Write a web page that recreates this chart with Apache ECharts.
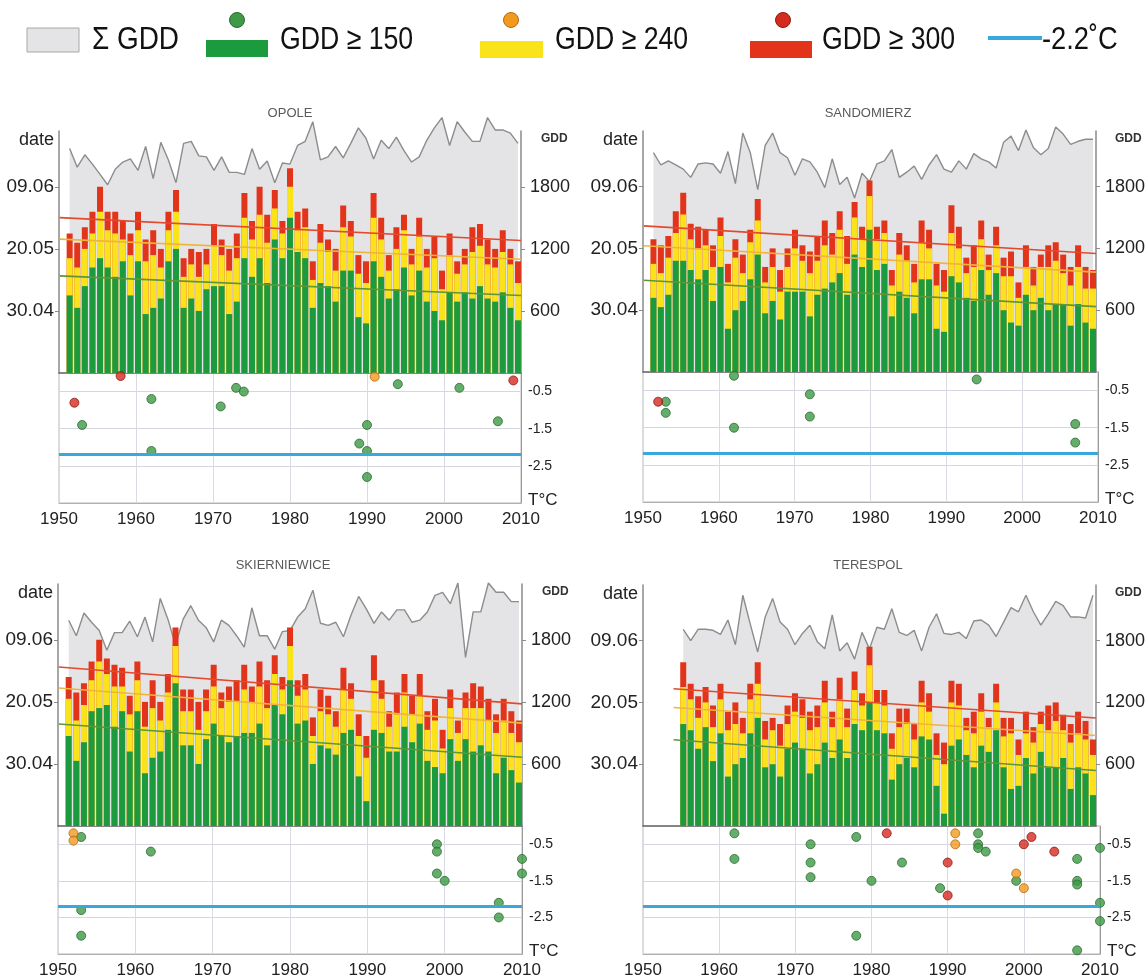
<!DOCTYPE html>
<html><head><meta charset="utf-8">
<script src="https://cdn.jsdelivr.net/npm/echarts@6/dist/echarts.min.js"></script>
<style>html,body{margin:0;padding:0;background:#fff}#c{width:1148px;height:979px}</style>
</head><body><div id="c"></div>
<script>
// ---------- DATA ----------
const years51 = [1951,1952,1953,1954,1955,1956,1957,1958,1959,1960,1961,1962,1963,1964,1965,1966,1967,1968,1969,1970,1971,1972,1973,1974,1975,1976,1977,1978,1979,1980,1981,1982,1983,1984,1985,1986,1987,1988,1989,1990,1991,1992,1993,1994,1995,1996,1997,1998,1999,2000,2001,2002,2003,2004,2005,2006,2007,2008,2009,2010];
const years55 = [1955,1956,1957,1958,1959,1960,1961,1962,1963,1964,1965,1966,1967,1968,1969,1970,1971,1972,1973,1974,1975,1976,1977,1978,1979,1980,1981,1982,1983,1984,1985,1986,1987,1988,1989,1990,1991,1992,1993,1994,1995,1996,1997,1998,1999,2000,2001,2002,2003,2004,2005,2006,2007,2008,2009,2010];

// day of year when GDD thresholds were reached (120 = 30.04)
const opoleD150 = [125,121,128,134,137,134,131,136,125,136,119,121,124,136,140,121,124,120,127,128,128,119,123,137,131,137,129,143,137,150,139,137,121,129,128,123,133,133,118,116,136,131,124,127,134,125,133,123,120,117,126,123,126,124,128,124,123,126,121,117];
const opoleD240 = [137,134,140,145,152,146,145,143,138,146,136,138,134,146,152,131,135,131,135,141,138,133,137,150,143,151,142,153,145,160,146,147,130,142,139,133,147,144,132,129,150,143,133,140,146,135,144,134,137,127,138,132,135,139,141,135,134,139,135,129];
const opoleD300 = [145,142,147,152,160,152,152,149,145,152,143,146,140,152,159,137,140,139,140,148,143,140,145,158,149,160,151,159,149,166,152,153,136,148,143,140,154,149,138,136,158,150,138,147,151,140,150,140,144,133,145,136,140,147,148,143,140,146,140,136];
const opoleGDD  = [2170,1990,2110,2020,1920,1820,1970,2040,2070,1960,2190,1880,2230,2060,1840,2220,2240,2100,2090,1960,2090,1940,1940,1920,2170,1970,2050,1840,2030,2020,2200,2240,2430,2060,2090,2190,2080,2220,2370,2270,2070,2250,2170,2280,2150,2040,2090,2250,2370,2470,2200,2430,2330,2240,2240,2470,2350,2350,2320,2220];

const sandD150 = [124,121,125,136,136,133,130,133,123,134,114,120,123,130,138,119,123,117,126,126,126,118,125,127,129,132,125,138,134,146,133,135,118,126,124,119,130,130,114,113,131,129,124,123,133,125,132,120,116,115,125,120,124,120,122,122,115,122,116,114];
const sandD240 = [135,132,137,145,151,143,140,141,134,144,129,137,132,142,149,129,134,126,134,140,136,132,136,141,138,146,135,150,143,157,143,145,128,138,136,129,142,140,128,126,145,140,132,134,143,133,141,131,131,124,134,128,134,134,136,132,128,134,127,127];
const sandD300 = [143,141,144,152,158,148,147,146,141,150,135,143,138,146,156,134,140,133,140,146,141,139,144,149,145,152,144,155,147,162,147,149,133,145,141,135,149,146,135,133,154,147,137,141,149,138,147,137,139,129,141,134,138,141,142,138,134,141,134,133];
const sandGDD  = [2130,2010,2050,2010,1970,1890,2020,2030,2020,1930,2140,1830,2320,2130,1770,2200,2320,2130,2080,1910,2070,2040,1940,1790,2070,1820,1890,1690,1930,1850,2020,2050,2160,1890,1940,2000,1870,2010,2110,1970,1940,2050,1970,2120,2070,2040,1980,2230,2290,2150,2350,2180,2110,2170,2380,2310,2210,2240,2260,2260];

const skieD150 = [129,121,127,137,138,139,132,137,124,137,117,122,124,131,146,126,126,120,128,133,129,127,129,130,130,133,126,139,136,147,133,134,120,126,125,123,130,131,116,108,131,130,124,124,132,127,133,121,119,117,128,121,128,124,126,124,117,122,118,114];
const skieD240 = [141,134,139,147,153,149,145,145,136,147,132,138,134,143,158,137,137,131,137,145,138,140,140,144,140,145,138,149,144,158,142,144,129,137,136,132,144,141,129,122,147,141,132,136,143,136,142,131,134,125,138,130,138,138,138,134,130,134,130,127];
const skieD300 = [148,143,146,153,160,154,152,151,142,153,140,147,140,149,164,144,144,140,144,152,143,145,147,152,145,153,147,155,148,164,147,149,135,144,142,137,151,146,136,129,155,147,137,143,149,142,149,137,141,131,144,134,143,146,145,141,136,141,137,134];
const skieGDD  = [1990,1840,2060,1970,1890,1700,1870,1870,1980,1830,2020,1780,2200,2000,1750,2000,2130,1990,1920,1780,1990,1940,1840,1730,2110,1840,1840,1710,1880,1890,2020,2100,2280,1960,1940,1970,1830,2040,2220,2100,1960,2070,1990,2090,2090,1970,1990,2070,2230,2260,2150,2350,1630,2070,2070,2350,2260,2260,2170,2170];

const tereD150 = [133,131,125,132,121,130,116,120,122,130,135,119,120,116,125,127,125,117,120,127,122,128,122,133,131,140,131,130,115,120,122,119,129,128,113,104,126,128,123,119,126,124,131,119,112,113,122,117,124,119,119,122,112,119,117,110];
const tereD240 = [145,141,135,140,132,141,131,133,130,141,146,128,131,126,133,137,135,131,132,140,132,141,132,144,139,152,140,139,125,132,133,128,140,137,123,120,140,139,131,130,137,132,140,129,130,123,130,127,133,131,134,131,127,130,128,123];
const tereD300 = [153,146,142,145,139,146,137,140,135,146,153,134,135,133,139,143,141,137,139,147,137,148,138,150,143,158,144,144,130,138,138,133,147,143,130,127,147,146,135,137,143,135,146,135,135,128,137,132,137,139,140,136,133,137,134,128];
const tereGDD  = [1910,1800,1910,1910,1900,1860,2000,1760,2240,1960,1690,2030,2210,1980,1910,1760,1870,1950,1790,1720,2050,1700,1780,1620,1880,1720,1930,1910,2110,1880,1850,1900,1700,1930,2060,1870,1860,1880,1820,1990,2000,1950,1840,1980,2120,2080,2240,2080,1950,2060,2180,2140,2030,2030,2020,2240];

// minimum temperature [year, °C] after reaching each threshold
const opoleFrost150 = [[1953,-1.4],[1962,-0.7],[1962,-2.1],[1971,-0.9],[1973,-0.4],[1974,-0.5],[1989,-1.9],[1990,-1.4],[1990,-2.1],[1990,-2.8],[1994,-0.3],[2002,-0.4],[2007,-1.3]];
const opoleFrost240 = [[1991,-0.1]];
const opoleFrost300 = [[1952,-0.8],[1958,-0.08],[2009,-0.2]];
const sandFrost150 = [[1953,-0.8],[1953,-1.1],[1962,-0.1],[1962,-1.5],[1972,-0.6],[1972,-1.2],[1994,-0.2],[2007,-1.4],[2007,-1.9]];
const sandFrost240 = [];
const sandFrost300 = [[1952,-0.8]];
const skieFrost150 = [[1953,-0.3],[1953,-2.3],[1953,-3.0],[1962,-0.7],[1999,-0.5],[1999,-0.7],[1999,-1.3],[2000,-1.5],[2007,-2.1],[2007,-2.5],[2010,-0.9],[2010,-1.3]];
const skieFrost240 = [[1952,-0.2],[1952,-0.4]];
const skieFrost300 = [];
const tereFrost150 = [[1962,-0.2],[1962,-0.9],[1972,-0.5],[1972,-1.0],[1972,-1.4],[1978,-0.3],[1978,-3.0],[1980,-1.5],[1984,-1.0],[1989,-1.7],[1994,-0.2],[1994,-0.5],[1994,-0.6],[1995,-0.7],[1999,-1.5],[2007,-0.9],[2007,-1.5],[2007,-1.6],[2007,-3.4],[2010,-0.6],[2010,-2.1],[2010,-2.6]];
const tereFrost240 = [[1991,-0.2],[1991,-0.5],[1999,-1.3],[2000,-1.7]];
const tereFrost300 = [[1982,-0.2],[1990,-1.0],[1990,-1.9],[2000,-0.5],[2001,-0.3],[2004,-0.7]];

const frostThreshold = -2.2;
const dateTickValues = [120,140,160];
const dateTickLabels = ['30.04','20.05','09.06'];
const gddTickValues = [600,1200,1800];
const tempTickValues = [-0.5,-1.5,-2.5];
const stationNames = ['OPOLE','SANDOMIERZ','SKIERNIEWICE','TERESPOL'];
const legendLabels = ['\u03a3 GDD','GDD \u2265 150','GDD \u2265 240','GDD \u2265 300','-2.2\u02daC'];

// ---------- STYLE / LAYOUT ----------
const SANS = "'Liberation Sans',Arial,sans-serif";
const COL = {green:'#1b9a3e', yellow:'#fbe31c', red:'#e2341b', area:'#e4e4e6', areaLine:'#8c8c8c',
  trR:'#e24a2e', trY:'#f0b43a', trG:'#5e9636', blue:'#39a9dd',
  p150:'#3f9946', p240:'#f19a1e', p300:'#d52b1f', axis:'#8a8a8a'};

const panels = [
  {name:stationNames[0], years:years51, d150:opoleD150, d240:opoleD240, d300:opoleD300, gdd:opoleGDD, f150:opoleFrost150, f240:opoleFrost240, f300:opoleFrost300, L:59, R:521, T:131, B:373, S:503, tx:290, ty:113, gx:20},
  {name:stationNames[1], years:years51, d150:sandD150, d240:sandD240, d300:sandD300, gdd:sandGDD, f150:sandFrost150, f240:sandFrost240, f300:sandFrost300, L:643, R:1098, T:131, B:372, S:502, tx:868, ty:113, gx:17},
  {name:stationNames[2], years:years51, d150:skieD150, d240:skieD240, d300:skieD300, gdd:skieGDD, f150:skieFrost150, f240:skieFrost240, f300:skieFrost300, L:58, R:522, T:584, B:826, S:955, tx:283, ty:565, gx:20},
  {name:stationNames[3], years:years55, d150:tereD150, d240:tereD240, d300:tereD300, gdd:tereGDD, f150:tereFrost150, f240:tereFrost240, f300:tereFrost300, L:643, R:1100, T:585, B:826, S:957, tx:868, ty:565, gx:15}
];

function linreg(xs, ys){
  const n = xs.length; let sx=0, sy=0, sxx=0, sxy=0;
  for(let i=0;i<n;i++){ sx+=xs[i]; sy+=ys[i]; sxx+=xs[i]*xs[i]; sxy+=xs[i]*ys[i]; }
  const b = (n*sxy - sx*sy)/(n*sxx - sx*sx); const a = (sy - b*sx)/n;
  return x => a + b*x;
}

const option = {animation:false, backgroundColor:'#fff', grid:[], xAxis:[], yAxis:[], series:[], graphic:[]};

panels.forEach(P => {
  const gT = option.grid.length;
  option.grid.push({left:P.L, top:P.T, width:P.R-P.L, height:P.B-P.T});
  option.grid.push({left:P.L, top:P.B, width:P.R-P.L, height:P.S-P.B, show:true, borderColor:'#b8b8b8', borderWidth:1});
  const gB = gT+1;
  const xT = option.xAxis.length;
  option.xAxis.push({type:'value', gridIndex:gT, min:1949.6, max:2010.4,
    axisLine:{show:true, onZero:false, lineStyle:{color:'#6a6a6a', width:1.5}}, axisTick:{show:false}, axisLabel:{show:false}, splitLine:{show:false}});
  option.xAxis.push({type:'value', gridIndex:gB, min:1950, max:2010, interval:10, position:'bottom',
    axisLine:{show:true, onZero:false, lineStyle:{color:'#b0b0b0'}}, axisTick:{show:false},
    axisLabel:{formatter:v=>String(v), fontFamily:SANS, fontSize:17, color:'#222', margin:8, showMinLabel:true, showMaxLabel:true},
    splitLine:{show:true, lineStyle:{color:'#dadae2'}}});
  const xB = xT+1;
  const yL = option.yAxis.length;
  option.yAxis.push({type:'value', gridIndex:gT, position:'left', min:100, max:178, interval:20,
    axisLine:{show:true, lineStyle:{color:COL.axis, width:1.5}},
    axisTick:{show:true, length:4, lineStyle:{color:COL.axis}, customValues:dateTickValues},
    axisLabel:{customValues:dateTickValues, formatter:v=>{const i=dateTickValues.indexOf(v); return i<0?'':dateTickLabels[i];},
      fontFamily:SANS, fontSize:19, color:'#222', margin:5},
    splitLine:{show:false}});
  option.yAxis.push({type:'value', gridIndex:gT, position:'right', min:0, max:2340, interval:600,
    axisLine:{show:true, lineStyle:{color:COL.axis, width:1.5}},
    axisTick:{show:true, length:4, lineStyle:{color:COL.axis}, customValues:gddTickValues},
    axisLabel:{customValues:gddTickValues, formatter:v=>gddTickValues.indexOf(v)<0?'':String(v),
      fontFamily:SANS, fontSize:18, color:'#222', margin:9},
    splitLine:{show:false}});
  const yR = yL+1;
  option.yAxis.push({type:'value', gridIndex:gB, position:'right', min:-3.5, max:0, interval:1,
    axisLine:{show:true, lineStyle:{color:'#9a9a9a'}}, axisTick:{show:false},
    axisLabel:{formatter:v=>{ if(Math.abs(v+3.5)<1e-6) return '{t|T\u00b0C}'; if(tempTickValues.some(t=>Math.abs(t-v)<1e-6)) return v.toFixed(1); return ''; },
      fontFamily:SANS, fontSize:14, color:'#222', margin:7, showMinLabel:true,
      rich:{t:{fontFamily:SANS, fontSize:17, color:'#222', padding:[0,0,6,0]}}},
    splitLine:{show:true, lineStyle:{color:'#d6d6e0'}}});
  const yT = yL+2;

  // Σ GDD area
  option.series.push({type:'line', xAxisIndex:xT, yAxisIndex:yR, data:P.years.map((y,i)=>[y,P.gdd[i]]),
    symbol:'none', clip:false, lineStyle:{color:COL.areaLine, width:1.4}, areaStyle:{color:COL.area, opacity:1}, z:1});
  // bars (overlaid from baseline)
  const barCommon = {type:'bar', xAxisIndex:xT, yAxisIndex:yL, barWidth:6, barGap:'-100%', z:2};
  option.series.push(Object.assign({}, barCommon, {data:P.years.map((y,i)=>[y,P.d300[i]]), itemStyle:{color:COL.red}}));
  option.series.push(Object.assign({}, barCommon, {data:P.years.map((y,i)=>[y,P.d240[i]]), itemStyle:{color:COL.yellow}}));
  option.series.push(Object.assign({}, barCommon, {data:P.years.map((y,i)=>[y,P.d150[i]]), itemStyle:{color:COL.green}}));
  // linear trends
  const x0 = P.years[0]-1.3, x1 = P.years[P.years.length-1]+0.4;
  [[P.d300,COL.trR],[P.d240,COL.trY],[P.d150,COL.trG]].forEach(([d,c])=>{
    const f = linreg(P.years, d);
    option.series.push({type:'line', xAxisIndex:xT, yAxisIndex:yL, data:[[x0,f(x0)],[x1,f(x1)]], symbol:'none',
      lineStyle:{color:c, width:1.6}, z:3, silent:true});
  });
  // frost points
  const sc = (data,c,bc,extra)=>Object.assign({type:'scatter', xAxisIndex:xB, yAxisIndex:yT, data:data, symbolSize:9, clip:false,
    itemStyle:{color:c, borderColor:bc, borderWidth:1}, z:4}, extra||{});
  option.series.push(sc(P.f150, COL.p150, '#2a6b30', {markLine:{silent:true, symbol:'none', label:{show:false},
    lineStyle:{color:COL.blue, width:3, type:'solid'}, data:[{yAxis:frostThreshold}]}}));
  option.series.push(sc(P.f240, COL.p240, '#b86a10'));
  option.series.push(sc(P.f300, COL.p300, '#8e1a12'));

  // texts
  option.graphic.push({type:'text', x:P.tx, y:P.ty, style:{text:P.name, font:'13px '+SANS, fill:'#5a5a5a', textAlign:'center', textVerticalAlign:'middle'}});
  option.graphic.push({type:'text', x:P.L-5, y:P.T+9, style:{text:'date', font:'18px '+SANS, fill:'#222', textAlign:'right', textVerticalAlign:'middle'}});
  option.graphic.push({type:'text', x:P.R+P.gx, y:P.T+8, style:{text:'GDD', font:'bold 12px '+SANS, fill:'#333', textAlign:'left', textVerticalAlign:'middle'}});
});

// legend
const LG = [
  {type:'rect', shape:{x:27,y:28,width:52,height:24}, style:{fill:COL.area, stroke:'#a8a8a8', lineWidth:1}},
  {type:'text', x:92, y:40, scaleX:0.9, style:{text:legendLabels[0], font:'31px '+SANS, fill:'#111', textVerticalAlign:'middle'}},
  {type:'rect', shape:{x:206,y:40,width:62,height:17}, style:{fill:COL.green}},
  {type:'circle', shape:{cx:237,cy:20,r:7.5}, style:{fill:COL.p150, stroke:'#2a6b30', lineWidth:1}},
  {type:'text', x:280, y:40, scaleX:0.86, style:{text:legendLabels[1], font:'31px '+SANS, fill:'#111', textVerticalAlign:'middle'}},
  {type:'rect', shape:{x:480,y:41,width:63,height:17}, style:{fill:COL.yellow}},
  {type:'circle', shape:{cx:511,cy:20,r:7.5}, style:{fill:COL.p240, stroke:'#b86a10', lineWidth:1}},
  {type:'text', x:555, y:40, scaleX:0.86, style:{text:legendLabels[2], font:'31px '+SANS, fill:'#111', textVerticalAlign:'middle'}},
  {type:'rect', shape:{x:750,y:41,width:62,height:17}, style:{fill:COL.red}},
  {type:'circle', shape:{cx:783,cy:20,r:7.5}, style:{fill:COL.p300, stroke:'#8e1a12', lineWidth:1}},
  {type:'text', x:822, y:40, scaleX:0.86, style:{text:legendLabels[3], font:'31px '+SANS, fill:'#111', textVerticalAlign:'middle'}},
  {type:'line', shape:{x1:988,y1:38,x2:1042,y2:38}, style:{stroke:COL.blue, lineWidth:4}},
  {type:'text', x:1042, y:40, scaleX:0.88, style:{text:legendLabels[4], font:'31px '+SANS, fill:'#111', textVerticalAlign:'middle'}}
];
option.graphic = option.graphic.concat(LG);

const chart = echarts.init(document.getElementById('c'), null, {renderer:'canvas'});
chart.setOption(option);
</script></body></html>
